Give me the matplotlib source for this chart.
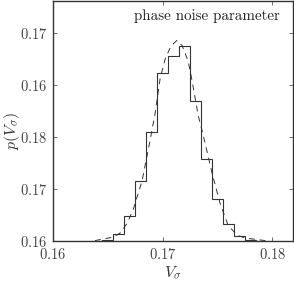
import matplotlib
matplotlib.use("Agg")
import matplotlib.pyplot as plt
import numpy as np

plt.rcParams['mathtext.fontset'] = 'cm'
plt.rcParams['font.family'] = 'serif'
plt.rcParams['font.serif'] = ['cmr10', 'DejaVu Serif']
plt.rcParams['axes.formatter.use_mathtext'] = True

# histogram (density)
bin_edges = [0.1635, 0.1645, 0.1655, 0.1665, 0.1675, 0.1685, 0.1695, 0.1705, 0.1715,
             0.1725, 0.1735, 0.1745, 0.1755, 0.1765, 0.1775, 0.1785, 0.1795]
hist_vals = [0.5, 1, 6.7, 24, 58, 105, 162, 178, 188, 135, 79, 40, 16, 5, 1, 0.5]

# dashed fit curve
fit_x = [0.16384, 0.16548, 0.16612, 0.16676, 0.16731, 0.16813, 0.16886, 0.16932,
         0.16977, 0.17023, 0.17078, 0.17132, 0.17178, 0.17233, 0.17269, 0.17324,
         0.17370, 0.17452, 0.17525, 0.17598, 0.17680, 0.17753, 0.17936]
fit_y = [0.5, 3.8, 7.7, 17, 30, 58, 97, 123, 156, 175, 188, 193, 188, 173, 154, 121,
         102, 65, 36, 15, 5.7, 2.9, 0.5]

xticks = [0.16, 0.17, 0.18]
xtick_labels = ['0.16', '0.17', '0.18']
yticks = [0, 50, 100, 150, 200]
ytick_labels = ['0.16', '0.17', '0.18', '0.16', '0.17']

fig = plt.figure(figsize=(2.94, 2.81), dpi=100)
ax = fig.add_axes([0.180, 0.142, 0.817, 0.855])

ax.stairs(hist_vals, bin_edges, color='#333333', linewidth=0.8)
ax.plot(fit_x, fit_y, color='#333333', linewidth=0.7, dashes=(6, 5))

ax.set_xlim(0.16, 0.1819)
ax.set_ylim(0, 231)
ax.set_xticks(xticks)
ax.set_xticklabels(['$' + s + '$' for s in xtick_labels])
ax.set_yticks(yticks)
ax.set_yticklabels(['$' + s + '$' for s in ytick_labels])
ax.tick_params(direction='in', length=3, width=0.6, top=True, right=True,
               labelsize=10.5, colors='#555555', labelcolor='#444444', pad=4)
for s in ax.spines.values():
    s.set_color('#333333')
    s.set_linewidth(1.0)

ax.set_xlabel(r'$V_\sigma$', fontsize=11.5, color='#333333', labelpad=2)
ax.set_ylabel(r'$p(V_\sigma)$', fontsize=11.5, color='#333333', va='center')
ax.yaxis.set_label_coords(-0.17, 0.46)
ax.text(0.946, 0.938, 'phase noise parameter', transform=ax.transAxes,
        ha='right', va='center', fontsize=10.8, color='#222222')

fig.savefig('out.png', dpi=100)
